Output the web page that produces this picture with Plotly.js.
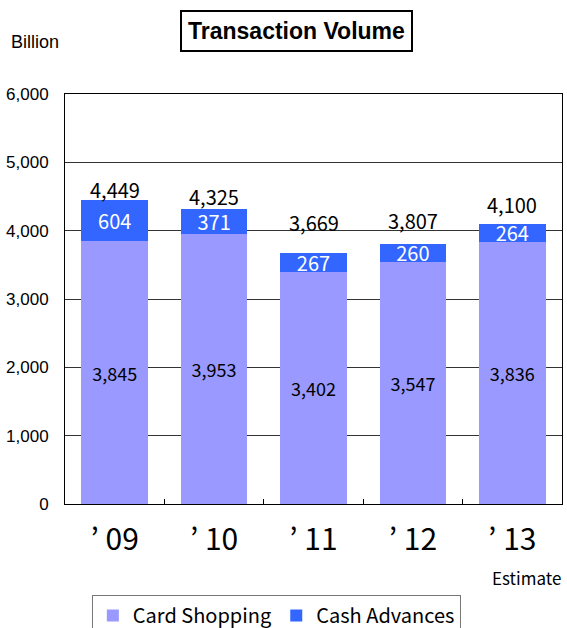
<!DOCTYPE html>
<html>
<head>
<meta charset="utf-8">
<script src="https://cdn.plot.ly/plotly-3.0.1.min.js"></script>
<style>
  body { margin: 0; background: #fff; }
  #plotArea { width: 567px; height: 628px; }
</style>
</head>
<body>
<div id="plotArea"></div>
<script>
var years = ["’ 09", "’ 10", "’ 11", "’ 12", "’ 13"];
var cardShopping = [3845, 3953, 3402, 3547, 3836];
var cashAdvances = [604, 371, 267, 260, 264];
var totals = [4449, 4325, 3669, 3807, 4100];
var yTicks = [0, 1000, 2000, 3000, 4000, 5000, 6000];

// pixel lift of each total label above its bar (as placed in the original)
var totalLift = [10, 12, 31, 23, 19];

var jp = "'Noto Sans CJK JP', 'DejaVu Sans', sans-serif";
var ar = "'Liberation Sans', Arial, sans-serif";

function fmt(v) { return v.toLocaleString("en-US"); }

var card = {
  x: years,
  y: cardShopping,
  name: "Card Shopping",
  type: "bar",
  marker: {color: "#9999ff"},
  text: cardShopping.map(fmt),
  textposition: "inside",
  insidetextanchor: "middle",
  constraintext: "none",
  textfont: {family: jp, size: 18, color: "#000"},
  hoverinfo: "none"
};

var cash = {
  x: years,
  y: cashAdvances,
  name: "Cash Advances",
  type: "bar",
  marker: {color: "#3366ff"},
  text: cashAdvances.map(fmt),
  textposition: "inside",
  insidetextanchor: "middle",
  constraintext: "none",
  textfont: {family: jp, size: 20, color: "#fff"},
  hoverinfo: "none"
};

var notes = years.map(function (yr, i) {
  return {
    x: yr, y: totals[i], xref: "x", yref: "y",
    text: fmt(totals[i]), showarrow: false,
    yanchor: "middle", yshift: totalLift[i],
    font: {family: jp, size: 20, color: "#000"}
  };
});

// chart title in a box
notes.push({
  x: 0.466, y: 1 + (94 - 31) / 410, xref: "paper", yref: "paper", yanchor: "middle",
  text: "<b>Transaction Volume</b>", showarrow: false,
  font: {family: ar, size: 23, color: "#000"},
  bordercolor: "#000", borderwidth: 2, borderpad: 6, bgcolor: "#fff"
});

notes.push({
  x: -0.113, y: 1 + (94 - 42) / 410, xref: "paper", yref: "paper",
  xanchor: "left", yanchor: "middle",
  text: "Billion", showarrow: false,
  font: {family: ar, size: 18, color: "#000"}
});

notes.push({
  x: 1.003, y: -(577 - 504) / 410, xref: "paper", yref: "paper",
  xanchor: "right", yanchor: "middle",
  text: "Estimate", showarrow: false,
  font: {family: jp, size: 17, color: "#000"}
});

var layout = {
  width: 567,
  height: 628,
  margin: {l: 65, r: 5, t: 94, b: 124, autoexpand: false},
  paper_bgcolor: "#fff",
  plot_bgcolor: "#fff",
  barmode: "stack",
  bargap: 0.33,
  showlegend: true,
  legend: {
    orientation: "h",
    traceorder: "normal",
    x: 0.054, y: -(595 - 504) / 410,
    xanchor: "left", yanchor: "top",
    bordercolor: "#777", borderwidth: 1,
    font: {family: jp, size: 20, color: "#000"},
    itemwidth: 30, tracegroupgap: 0
  },
  xaxis: {
    type: "category",
    showline: true, linecolor: "#000", linewidth: 1, mirror: true,
    ticks: "inside", tickson: "boundaries", ticklen: 5, tickcolor: "#000",
    tickfont: {family: jp, size: 30, color: "#000"},
    ticklabelstandoff: 9,
    showgrid: false,
    automargin: false
  },
  yaxis: {
    range: [0, 6000],
    tickvals: yTicks,
    ticktext: yTicks.map(fmt),
    showline: true, linecolor: "#000", linewidth: 1, mirror: true,
    showgrid: true, gridcolor: "#333", gridwidth: 1,
    ticks: "", ticklabelstandoff: 12,
    tickfont: {family: ar, size: 17, color: "#000"},
    zeroline: false,
    automargin: false
  },
  annotations: notes
};

Plotly.newPlot("plotArea", [card, cash], layout, {displayModeBar: false, staticPlot: true});
</script>
</body>
</html>
